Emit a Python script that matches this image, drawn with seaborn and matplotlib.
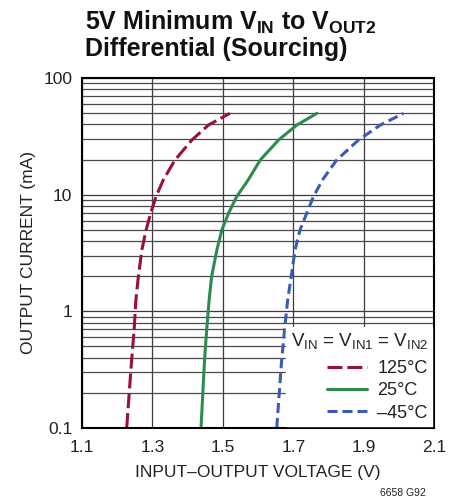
import numpy as np
import pandas as pd
import matplotlib
matplotlib.use("Agg")
import matplotlib.pyplot as plt
import seaborn as sns
from matplotlib.ticker import FixedLocator, FuncFormatter, NullFormatter

# ---- data ----
current_mA = [0.1, 0.198, 0.383, 0.69, 1.25, 1.98, 3.36, 4.98, 6.92, 9.6, 13.4, 19.8, 29.4, 39.5, 49.8]
v_125 = [1.227, 1.234, 1.241, 1.248, 1.253, 1.260, 1.270, 1.282, 1.295, 1.310, 1.331, 1.364, 1.412, 1.459, 1.520]
v_25 = [1.438, 1.443, 1.448, 1.454, 1.461, 1.468, 1.483, 1.497, 1.516, 1.539, 1.572, 1.606, 1.658, 1.710, 1.767]
v_m45 = [1.653, 1.660, 1.667, 1.675, 1.684, 1.694, 1.705, 1.719, 1.738, 1.757, 1.783, 1.823, 1.885, 1.947, 2.013]
series_names = ["125°C", "25°C", "–45°C"]
x_ticks = [1.1, 1.3, 1.5, 1.7, 1.9, 2.1]
y_ticks = [0.1, 1, 10, 100]

df = pd.concat([
    pd.DataFrame({"V": v, "I": current_mA, "T": name})
    for v, name in zip([v_125, v_25, v_m45], series_names)
])

sns.set_theme(style="white")
font = "Liberation Sans"
plt.rcParams["font.family"] = [font, "DejaVu Sans"]
plt.rcParams["mathtext.fontset"] = "custom"
plt.rcParams["mathtext.rm"] = font
plt.rcParams["mathtext.bf"] = font + ":bold"

fig = plt.figure(figsize=(4.58, 5.0), dpi=100)
ax = fig.add_axes([0.179, 0.144, 0.769, 0.700])

colors = {"125°C": "#9a0f3c", "25°C": "#2e8b4e", "–45°C": "#3a5cb4"}
dashes = {"125°C": (4.9, 1.6), "25°C": "", "–45°C": (3.3, 1.6)}

sns.lineplot(data=df, x="V", y="I", hue="T", style="T", palette=colors,
             dashes=dashes, sort=False, estimator=None, linewidth=2.2,
             ax=ax, hue_order=series_names, style_order=series_names)

ax.set_yscale("log")
ax.set_xlim(1.1, 2.1)
ax.set_ylim(0.1, 100)
ax.xaxis.set_major_locator(FixedLocator(x_ticks))
ax.yaxis.set_major_locator(FixedLocator(y_ticks))
ax.yaxis.set_major_formatter(FuncFormatter(lambda v, p: "%g" % v))
ax.yaxis.set_minor_locator(FixedLocator([m * 10.0 ** e for e in (-1, 0, 1) for m in range(2, 10)]))
ax.yaxis.set_minor_formatter(NullFormatter())
ax.grid(True, which="major", axis="both", color="#3a3a3a", linewidth=0.9)
ax.grid(True, which="minor", axis="y", color="#4a4a4a", linewidth=0.9)
ax.set_axisbelow(True)
for s in ax.spines.values():
    s.set_color("black")
    s.set_linewidth(1.5)
ax.tick_params(axis="both", which="both", length=0, labelsize=12.5, colors="#222222", pad=7)
ax.tick_params(axis="x", pad=9)
ax.set_xlabel("INPUT–OUTPUT VOLTAGE (V)", fontsize=12.5, color="#222222", labelpad=7)
ax.set_ylabel("OUTPUT CURRENT (mA)", fontsize=12.5, color="#222222", labelpad=5)

leg = ax.legend(title=r"V$_{\mathrm{IN}}$ = V$_{\mathrm{IN1}}$ = V$_{\mathrm{IN2}}$",
                loc="lower right", fontsize=13, title_fontsize=13.5, frameon=True,
                fancybox=False, framealpha=1.0, edgecolor="white", facecolor="white",
                handlelength=2.2, borderaxespad=0.1, labelspacing=0.3,
                handletextpad=0.6, borderpad=0.25)
leg._legend_box.align = "right"
leg._legend_box.sep = 6
for t in leg.get_texts():
    t.set_color("#222222")
leg.get_title().set_color("#222222")

fig.text(0.186, 0.983, r"5V Minimum V$_{\mathbf{IN}}$ to V$_{\mathbf{OUT2}}$" + "\nDifferential (Sourcing)",
         fontsize=18, fontweight="bold", va="top", ha="left", color="#111111", linespacing=1.05)
fig.text(0.93, 0.004, "6658 G92", fontsize=7.5, ha="right", va="bottom", color="#222222")

fig.savefig("out.png", dpi=100)
